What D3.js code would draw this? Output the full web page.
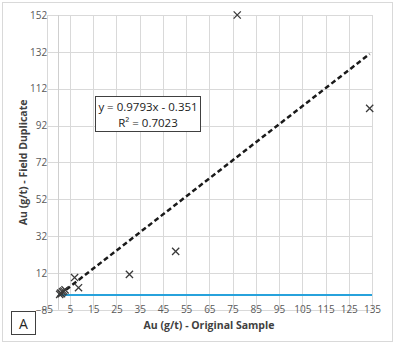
<!DOCTYPE html>
<html>
<head>
<meta charset="utf-8">
<script src="https://cdn.jsdelivr.net/npm/d3@7/dist/d3.min.js"></script>
<style>
  html, body { margin: 0; padding: 0; background: #fff; }
  svg { display: block; font-family: "Open Sans", "Liberation Sans", sans-serif; }
</style>
</head>
<body>
<svg id="chart" width="397" height="350"></svg>
<script>
// Gold assays: original sample vs field duplicate (g/t)
const originalAu  = [0.6, 1.0, 1.4, 1.8, 2.3, 2.9, 7.0, 8.7, 30.6, 50.5, 77.0, 134.0];
const duplicateAu = [0.4, 1.1, 0.8, 1.7, 2.2, 2.8, 9.5, 4.0, 11.2, 23.7, 152.0, 101.3];

// Linear trendline as reported
const trendSlope = 0.9793;
const trendIntercept = -0.351;
const trendRSquared = 0.7023;

// Axis ticks
const xTicks = [-5, 5, 15, 25, 35, 45, 55, 65, 75, 85, 95, 105, 115, 125, 135];
const yTicks = [-8, 12, 32, 52, 72, 92, 112, 132, 152];

const FONT = "Open Sans, Liberation Sans, sans-serif";
const svg = d3.select("#chart");

const plot = { left: 46.7, right: 372, top: 15, bottom: 309.8 };

const x = d3.scaleLinear().domain([-5, 135]).range([plot.left, plot.right]);
const y = d3.scaleLinear().domain([-8, 152]).range([plot.bottom, plot.top]);

// Chart frame
svg.append("rect")
  .attr("x", 2.5).attr("y", 2.5)
  .attr("width", 390).attr("height", 339)
  .attr("fill", "#fff")
  .attr("stroke", "#d9d9d9").attr("stroke-width", 1);

// Gridlines
const grid = svg.append("g").attr("class", "grid");
grid.selectAll("line.v").data(xTicks).join("line")
  .attr("class", "v")
  .attr("x1", d => Math.round(x(d)) + 0.5).attr("x2", d => Math.round(x(d)) + 0.5)
  .attr("y1", plot.top).attr("y2", plot.bottom)
  .attr("stroke", "#d9d9d9").attr("stroke-width", 1);
grid.selectAll("line.h").data(yTicks).join("line")
  .attr("class", "h")
  .attr("x1", plot.left).attr("x2", plot.right)
  .attr("y1", d => Math.round(y(d)) + 0.5).attr("y2", d => Math.round(y(d)) + 0.5)
  .attr("stroke", "#d9d9d9").attr("stroke-width", 1);

// Vertical axis line at x = 0
svg.append("line")
  .attr("x1", Math.round(x(0)) + 0.5).attr("x2", Math.round(x(0)) + 0.5)
  .attr("y1", plot.top).attr("y2", plot.bottom)
  .attr("stroke", "#cfcfcf").attr("stroke-width", 1);

// Horizontal axis line at y = 0
svg.append("line")
  .attr("x1", x(0)).attr("x2", x(135))
  .attr("y1", y(0)).attr("y2", y(0))
  .attr("stroke", "#27a2dc").attr("stroke-width", 2);

// Tick labels
const xAxis = d3.axisBottom(x).tickValues(xTicks).tickSize(0).tickPadding(0);
const gx = svg.append("g").attr("transform", `translate(0,${plot.bottom - 4})`).call(xAxis);
gx.select(".domain").remove();
gx.selectAll("text")
  .attr("fill", "#595959").attr("font-size", 10)
  .attr("font-family", FONT)
  .attr("dy", "0.71em");

const yAxis = d3.axisLeft(y).tickValues(yTicks).tickSize(0).tickPadding(0);
const gy = svg.append("g").attr("transform", `translate(${plot.left + 0.5},0)`).call(yAxis);
gy.select(".domain").remove();
gy.selectAll("text")
  .attr("fill", "#595959").attr("font-size", 10)
  .attr("font-family", FONT);

// Trendline across the range of original values
const xMin = d3.min(originalAu), xMax = d3.max(originalAu);
svg.append("line")
  .attr("x1", x(xMin)).attr("y1", y(trendSlope * xMin + trendIntercept))
  .attr("x2", x(xMax)).attr("y2", y(trendSlope * xMax + trendIntercept))
  .attr("stroke", "#1a1a1a").attr("stroke-width", 2.5)
  .attr("stroke-dasharray", "5,3");

// Sample markers
const pts = d3.zip(originalAu, duplicateAu);
const r = 3.6;
svg.append("g").selectAll("path").data(pts).join("path")
  .attr("d", d => {
    const cx = x(d[0]), cy = y(d[1]);
    return `M${cx - r},${cy - r}L${cx + r},${cy + r}M${cx - r},${cy + r}L${cx + r},${cy - r}`;
  })
  .attr("stroke", "#3a3a3a").attr("stroke-width", 1.3).attr("fill", "none");

// Trendline equation box
const eq = svg.append("g").attr("font-family", FONT);
eq.append("rect")
  .attr("x", 95.5).attr("y", 96.5).attr("width", 105).attr("height", 35)
  .attr("fill", "#fff").attr("stroke", "#404040").attr("stroke-width", 1);
eq.append("text")
  .attr("x", 148).attr("y", 110.5)
  .attr("text-anchor", "middle").attr("font-size", 11.5).attr("fill", "#1a1a1a")
  .text(`y = ${trendSlope}x - ${Math.abs(trendIntercept)}`);
eq.append("text")
  .attr("x", 148).attr("y", 126.5)
  .attr("text-anchor", "middle").attr("font-size", 11.5).attr("fill", "#1a1a1a")
  .text(`R² = ${trendRSquared}`);

// Axis titles
svg.append("text")
  .attr("x", 209).attr("y", 329)
  .attr("text-anchor", "middle").attr("font-size", 10.5).attr("font-weight", "bold")
  .attr("font-family", FONT).attr("fill", "#404040")
  .text("Au (g/t) - Original Sample");
svg.append("text")
  .attr("transform", `translate(27,${(plot.top + plot.bottom) / 2}) rotate(-90)`)
  .attr("text-anchor", "middle").attr("font-size", 10.5).attr("font-weight", "bold")
  .attr("font-family", FONT).attr("fill", "#404040")
  .text("Au (g/t) - Field Duplicate");

// Panel label
svg.append("rect")
  .attr("x", 11.5).attr("y", 311.5).attr("width", 24).attr("height", 23)
  .attr("fill", "#fff").attr("stroke", "#404040").attr("stroke-width", 1);
svg.append("text")
  .attr("x", 23.5).attr("y", 328.5)
  .attr("text-anchor", "middle").attr("font-size", 14).attr("fill", "#262626")
  .attr("font-family", FONT)
  .text("A");
</script>
</body>
</html>
